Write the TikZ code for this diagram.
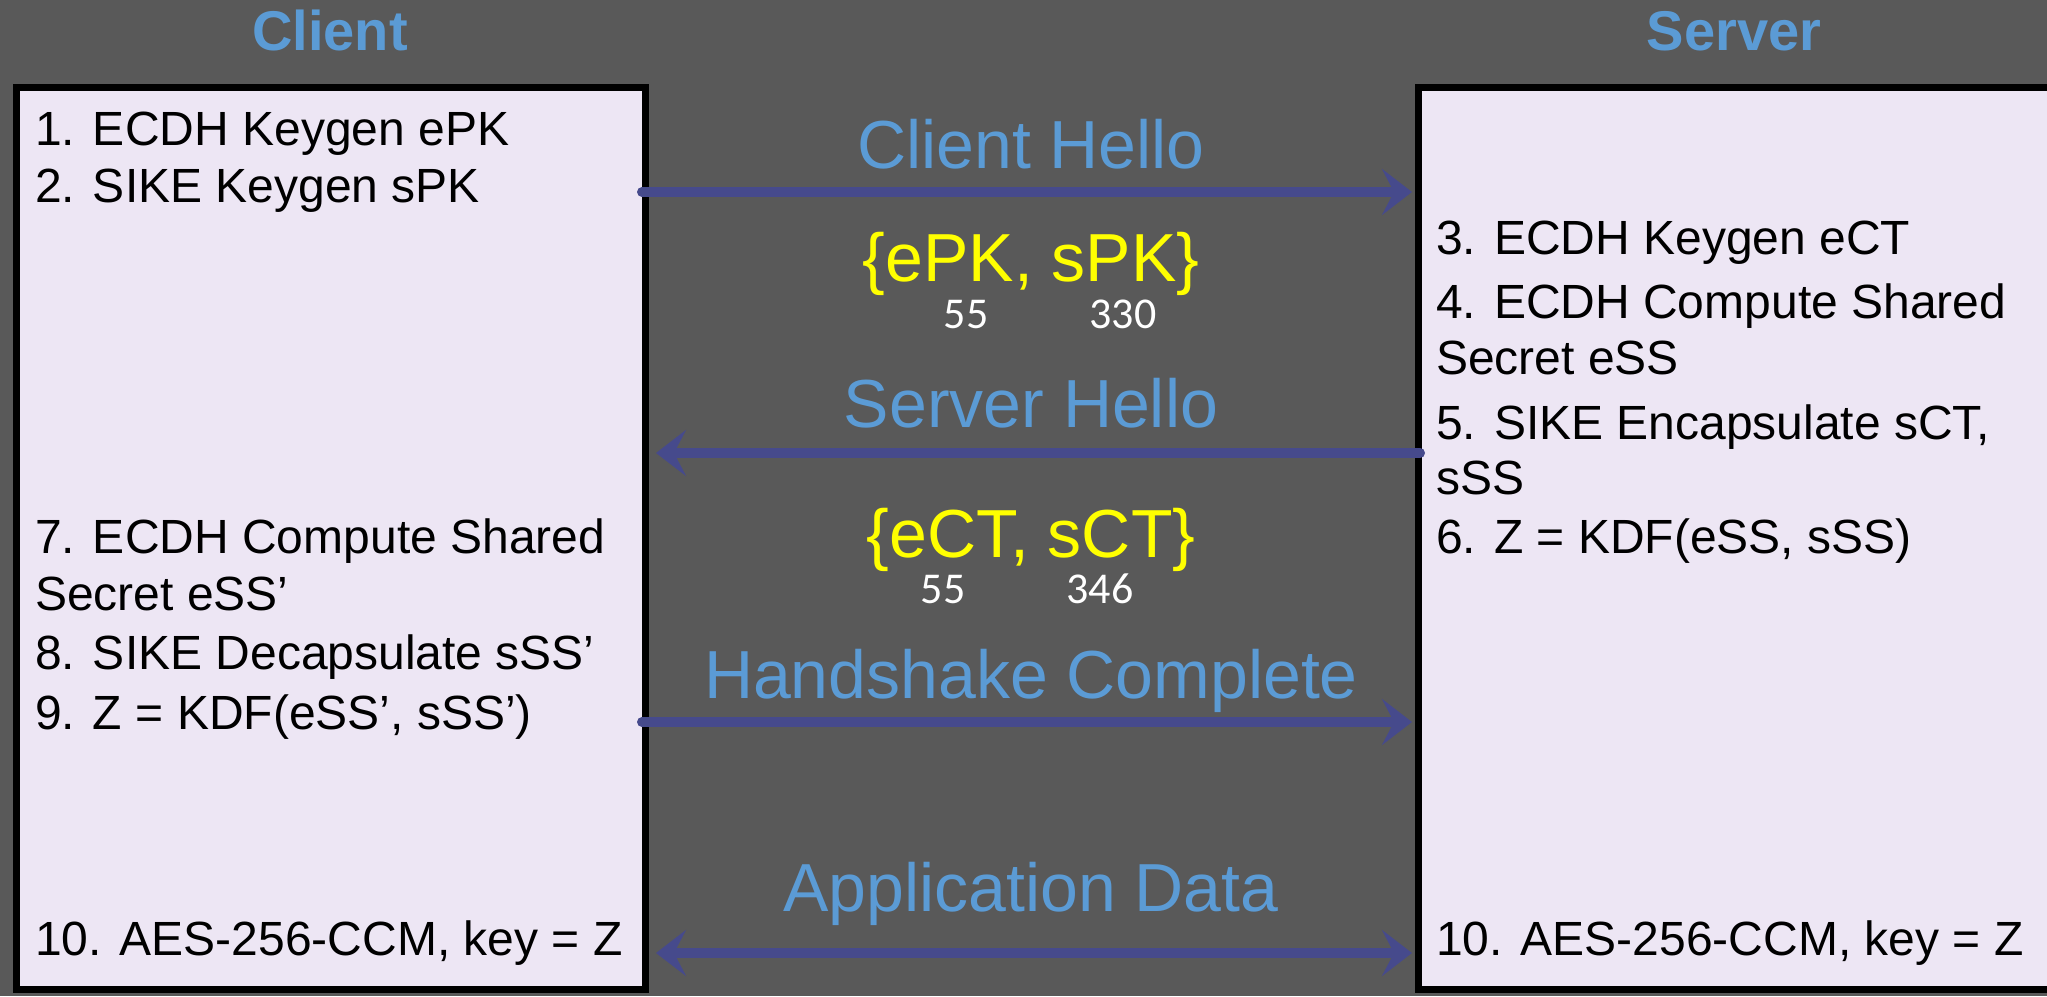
\documentclass[tikz,border=0pt]{standalone}
\usepackage{fontspec}
\setmainfont{Liberation Sans}
\newfontfamily\numfont{Carlito}
\usetikzlibrary{arrows.meta}
\definecolor{bgc}{HTML}{595959}
\definecolor{boxc}{HTML}{EDE6F4}
\definecolor{arrc}{HTML}{464A8C}
\definecolor{lblc}{HTML}{5B9BD5}
\definecolor{ylw}{HTML}{FFFF00}
\tikzset{
  party/.style={text=lblc, font=\fontsize{56}{60}\selectfont\bfseries, anchor=base, inner sep=0pt},
  panel/.style={draw=black, line width=7pt, fill=boxc},
  itemtxt/.style={text=black, font=\fontsize{48}{56}\selectfont, anchor=base west, inner sep=0pt},
  msg/.style={text=lblc, font=\fontsize{68}{72}\selectfont, anchor=base, inner sep=0pt},
  payload/.style={text=ylw, font=\fontsize{68}{72}\selectfont, anchor=base, inner sep=0pt},
  sizetxt/.style={text=white, font=\numfont\fontsize{44}{48}\selectfont, anchor=base, inner sep=0pt},
  flow/.style={draw=arrc, line width=10pt, line cap=round, -{Stealth[length=30pt,width=46pt,inset=12pt]}},
  flowboth/.style={draw=arrc, line width=10pt, {Stealth[length=30pt,width=46pt,inset=12pt]}-{Stealth[length=30pt,width=46pt,inset=12pt]}},
}
\begin{document}
\begin{tikzpicture}[x=1pt,y=-1pt]
\fill[bgc] (0,0) rectangle (2047,996);
\useasboundingbox (0,0) rectangle (2047,996);
\begin{scope}
\clip (0,0) rectangle (2047,996);
\draw[panel] (16.5,87.5) rectangle (645.5,989.5);
\draw[panel] (1418.5,87.5) rectangle (2060,989.5);
\end{scope}
\node[party] (client) at (330,50) {Client};
\node[party] (server) at (1734,50) {Server};
% left box items
\node[itemtxt] (c1) at (35,145) {1. ECDH Keygen ePK};
\node[itemtxt] (c2) at (35,202) {2. SIKE Keygen sPK};
\node[itemtxt] (c7) at (35,553) {7. ECDH Compute Shared};
\node[itemtxt] (c7b) at (35,610) {Secret eSS’};
\node[itemtxt] (c8) at (35,669) {8. SIKE Decapsulate sSS’};
\node[itemtxt] (c9) at (35,729) {9. Z = KDF(eSS’, sSS’)};
\node[itemtxt] (c10) at (35,955) {10. AES-256-CCM, key = Z};
% right box items
\node[itemtxt] (s3) at (1436,254) {3. ECDH Keygen eCT};
\node[itemtxt] (s4) at (1436,318) {4. ECDH Compute Shared};
\node[itemtxt] (s4b) at (1436,374) {Secret eSS};
\node[itemtxt] (s5) at (1436,439) {5. SIKE Encapsulate sCT,};
\node[itemtxt] (s5b) at (1436,494) {sSS};
\node[itemtxt] (s6) at (1436,553) {6. Z = KDF(eSS, sSS)};
\node[itemtxt] (s10) at (1436,955) {10. AES-256-CCM, key = Z};
% messages
\coordinate (a1s) at (642,192);
\coordinate (a1e) at (1412,192);
\coordinate (a2s) at (1420,453);
\coordinate (a2e) at (656,453);
\coordinate (a3s) at (642,722);
\coordinate (a3e) at (1412,722);
\coordinate (a4s) at (656,953);
\coordinate (a4e) at (1412,953);
\node[msg] (m1) at (1031,168) {Client Hello};
\node[payload] (p1) at (1031,281) {\{ePK, sPK\}};
\node[sizetxt] (n1a) at (966,328) {55};
\node[sizetxt] (n1b) at (1123,328) {330};
\node[msg] (m2) at (1031,427) {Server Hello};
\node[payload] (p2) at (1031,557) {\{eCT, sCT\}};
\node[sizetxt] (n2a) at (943,603) {55};
\node[sizetxt] (n2b) at (1100,603) {346};
\node[msg] (m3) at (1031,698) {Handshake Complete};
\node[msg] (m4) at (1031,911) {Application Data};
\draw[flow] (a1s) -- (a1e);
\draw[flow] (a2s) -- (a2e);
\draw[flow] (a3s) -- (a3e);
\draw[flowboth] (a4s) -- (a4e);
\end{tikzpicture}
\end{document}
